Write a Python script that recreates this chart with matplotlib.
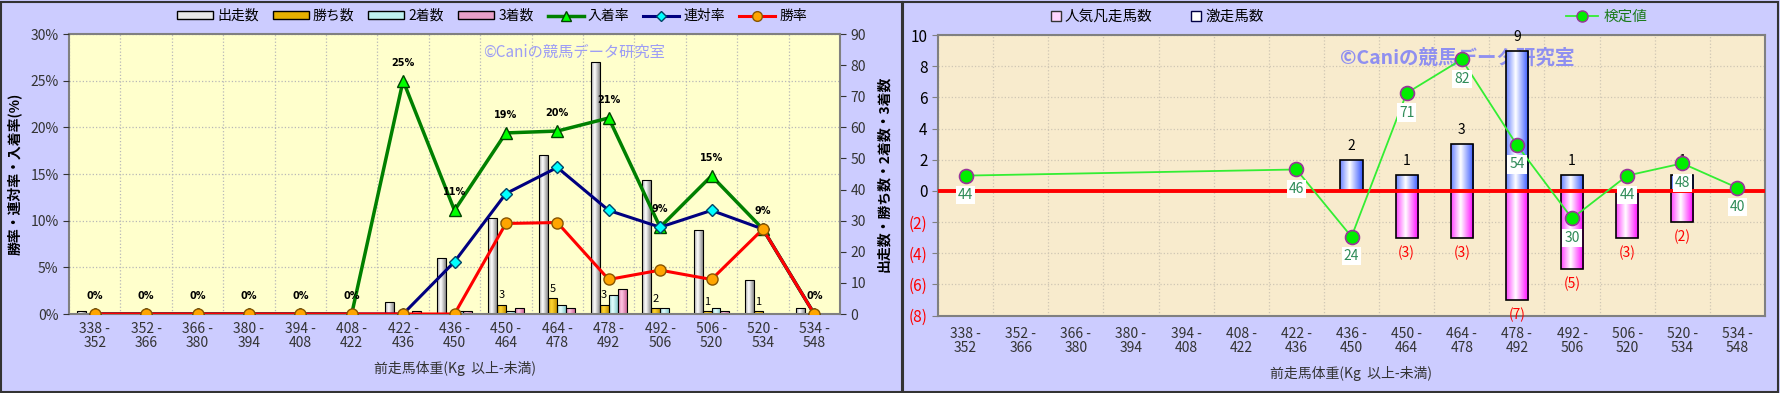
import numpy as np
import matplotlib
matplotlib.use('Agg')
import matplotlib.pyplot as plt
import matplotlib.colors as mcolors
from matplotlib.patches import Rectangle, Patch
from matplotlib.lines import Line2D
from matplotlib.ticker import MultipleLocator

plt.rcParams['font.family'] = ['Noto Sans CJK JP', 'DejaVu Sans']

# 体重区分
bins = ['338 -\n352', '352 -\n366', '366 -\n380', '380 -\n394', '394 -\n408',
        '408 -\n422', '422 -\n436', '436 -\n450', '450 -\n464', '464 -\n478',
        '478 -\n492', '492 -\n506', '506 -\n520', '520 -\n534', '534 -\n548']

# 左: 件数
starts = [1, 0, 0, 0, 0, 0, 4, 18, 31, 51, 81, 43, 27, 11, 2]
wins = [0, 0, 0, 0, 0, 0, 0, 0, 3, 5, 3, 2, 1, 1, 0]
second = [0, 0, 0, 0, 0, 0, 0, 1, 1, 3, 6, 2, 2, 0, 0]
third = [0, 0, 0, 0, 0, 0, 1, 1, 2, 2, 8, 0, 1, 0, 0]

# 左: 率(%)
place_rate = [0, 0, 0, 0, 0, 0, 25.0, 11.1, 19.4, 19.6, 21.0, 9.3, 14.8, 9.1, 0]
rentai_rate = [0, 0, 0, 0, 0, 0, 0, 5.6, 12.9, 15.7, 11.1, 9.3, 11.1, 9.1, 0]
win_rate = [0, 0, 0, 0, 0, 0, 0, 0, 9.7, 9.8, 3.7, 4.7, 3.7, 9.1, 0]

# 右: 激走 / 人気凡走 / 検定値
gekiso = [0, 0, 0, 0, 0, 0, 0, 2, 1, 3, 9, 1, 0, 1, 0]
bonso = [0, 0, 0, 0, 0, 0, 0, 0, 3, 3, 7, 5, 3, 2, 0]
kentei_idx = [0, 6, 7, 8, 9, 10, 11, 12, 13, 14]
kentei = [44, 46, 24, 71, 82, 54, 30, 44, 48, 40]

W, H = 1780, 393
BG = '#ccccff'
TXT = '#333333'


def shade(ax, bars, edge, mid):
    # 棒の横方向グラデーション
    e = np.array(mcolors.to_rgb(edge))
    m = np.array(mcolors.to_rgb(mid))
    t = np.linspace(0, 1, 64)
    g = np.clip(1 - np.abs(t - 0.42) / 0.58, 0, 1)
    img = e[None, :] * (1 - g[:, None]) + m[None, :] * g[:, None]
    for b in bars:
        h = b.get_height()
        if h == 0:
            continue
        x0, y0 = b.get_x(), b.get_y()
        im = ax.imshow(img[None], extent=[x0, x0 + b.get_width(), min(y0, y0 + h), max(y0, y0 + h)],
                       aspect='auto', interpolation='bilinear', zorder=b.get_zorder() - 0.1)
        im.set_clip_path(b)
        b.set_facecolor('none')


fig = plt.figure(figsize=(W / 100, H / 100), dpi=100, facecolor=BG)
fig.add_artist(Rectangle((0.5 / W, 1.5 / H), 902 / W, 1 - 3 / H, transform=fig.transFigure,
                         fill=False, edgecolor='#333333', lw=1.5))
fig.add_artist(Rectangle((903 / W, 1.5 / H), 875 / W, 1 - 3 / H, transform=fig.transFigure,
                         fill=False, edgecolor='#333333', lw=1.5))

x = np.arange(len(bins))

# ---------------- 左パネル ----------------
ax = fig.add_axes([69 / W, 1 - 314 / H, 771 / W, 280 / H])
ax.set_facecolor('#ffffcc')
ax2 = ax.twinx()
w = 0.175
b1 = ax.bar(x - 1.5 * w, starts, w, edgecolor='black', lw=0.8, zorder=2)
b2 = ax.bar(x - 0.5 * w, wins, w, edgecolor='black', lw=0.8, zorder=2)
b3 = ax.bar(x + 0.5 * w, second, w, edgecolor='black', lw=0.8, zorder=2)
b4 = ax.bar(x + 1.5 * w, third, w, edgecolor='black', lw=0.8, zorder=2)
shade(ax, b1, '#8a8a8a', '#ffffff')
shade(ax, b2, '#c89400', '#ffd633')
shade(ax, b3, '#86cccc', '#e4ffff')
shade(ax, b4, '#cc6699', '#ffc6e2')
for xi, v in zip(x, wins):
    if v:
        ax.annotate(str(v), (xi - 0.5 * w, v), xytext=(0, 3), textcoords='offset points',
                    ha='center', va='bottom', fontsize=8, color='black')

ax.set_xlim(-0.5, len(bins) - 0.5)
ax.set_ylim(0, 90)
ax.yaxis.tick_right()
ax.yaxis.set_label_position('right')
ax.set_yticks(range(0, 91, 10))
ax.yaxis.set_minor_locator(MultipleLocator(15))
ax.yaxis.remove_overlapping_locs = False
ax.set_xticks(x)
ax.set_xticklabels(bins, fontsize=10, color=TXT, linespacing=1.0)
ax.set_xticks(np.arange(len(bins) + 1) - 0.5, minor=True)
ax.grid(which='minor', color='#b8b8b8', ls=':', lw=0.9)
ax.set_axisbelow(True)
ax.tick_params(which='minor', length=0)
ax.tick_params(axis='x', length=0, pad=6)
ax.tick_params(axis='y', which='major', labelsize=10, colors=TXT, length=4)
ax.set_ylabel('出走数・勝ち数・2着数・3着数', fontsize=10, fontweight='bold', labelpad=8)
ax.set_xlabel('前走馬体重(Kg  以上-未満)', fontsize=10, color=TXT, labelpad=8)
for s in ax.spines.values():
    s.set_color('#808080')
    s.set_linewidth(1.5)
ax.text(0.537, 0.935, '©Caniの競馬データ研究室', transform=ax.transAxes,
        fontsize=11, color='#9d9df5', va='center', ha='left', zorder=1)

ax2.yaxis.tick_left()
ax2.yaxis.set_label_position('left')
ax2.set_ylim(0, 30)
ax2.set_yticks(range(0, 31, 5))
ax2.set_yticklabels([f'{v}%' for v in range(0, 31, 5)])
ax2.tick_params(axis='y', labelsize=10, colors=TXT, length=4)
for s in ax2.spines.values():
    s.set_visible(False)
ax2.plot(x, place_rate, color='#008000', lw=2.5, marker='^', ms=9, mfc='#00ff00', mec='#004400', mew=1, zorder=3)
ax2.plot(x, rentai_rate, color='#000080', lw=2.2, marker='D', ms=6, mfc='#00ffff', mec='#004466', mew=1, zorder=4)
ax2.plot(x, win_rate, color='#ff0000', lw=2.2, marker='o', ms=8, mfc='#ffa500', mec='#885500', mew=1, zorder=5)
for xi, v in zip(x, place_rate):
    ax2.annotate(f'{v:.0f}%', (xi, v), xytext=(0, 13), textcoords='offset points',
                 ha='center', va='center', fontsize=7, fontweight='bold', family='DejaVu Sans')
ax2.set_ylabel('勝率・連対率・入着率(%)', fontsize=10, fontweight='bold', labelpad=6)

hl = [Patch(facecolor='#e8e8e8', edgecolor='black'),
      Patch(facecolor='#e6b000', edgecolor='black'),
      Patch(facecolor='#bff0f0', edgecolor='black'),
      Patch(facecolor='#e8a0c8', edgecolor='black'),
      Line2D([], [], color='#008000', lw=2.5, marker='^', ms=7, mfc='#00ff00', mec='#004400'),
      Line2D([], [], color='#000080', lw=2.2, marker='D', ms=5, mfc='#00ffff', mec='#004466'),
      Line2D([], [], color='#ff0000', lw=2.2, marker='o', ms=7, mfc='#ffa500', mec='#885500')]
fig.legend(hl, ['出走数', '勝ち数', '2着数', '3着数', '入着率', '連対率', '勝率'],
           loc='center', bbox_to_anchor=(492 / W, 1 - 16 / H), ncol=7, frameon=False,
           fontsize=10, handlelength=2.6, handleheight=0.5, columnspacing=1.0, handletextpad=0.3)

# ---------------- 右パネル ----------------
axr = fig.add_axes([938 / W, 1 - 315.6 / H, 827 / W, 280.6 / H])
axr.set_facecolor('#f8ebcd')
axk = axr.twinx()
bw = 0.4
bb = axr.bar(x, gekiso, bw, edgecolor='black', lw=1.2, zorder=2)
bp = axr.bar(x, -np.array(bonso), bw, edgecolor='black', lw=1.2, zorder=2)
shade(axr, bb, '#3355ff', '#ffffff')
shade(axr, bp, '#ff00ff', '#ffffff')
for xi, v in zip(x, gekiso):
    if v:
        axr.annotate(str(v), (xi, v), xytext=(0, 10), textcoords='offset points',
                     ha='center', va='center', fontsize=10, color='black')
for xi, v in zip(x, bonso):
    if v:
        axr.annotate(f'({v})', (xi, -v), xytext=(0, -11), textcoords='offset points',
                     ha='center', va='center', fontsize=10, color='red')
axr.axhline(0, color='red', lw=2.8, zorder=5)

axr.set_xlim(-0.5, len(bins) - 0.5)
axr.set_ylim(-8, 10)
yt = list(range(-8, 11, 2))
axr.yaxis.tick_left()
axr.set_yticks(yt)
axr.set_yticklabels([str(v) if v >= 0 else f'({-v})' for v in yt])
for lab, v in zip(axr.get_yticklabels(), yt):
    lab.set_color('black' if v >= 0 else 'red')
axr.set_xticks(x)
axr.set_xticklabels(bins, fontsize=10, color=TXT, linespacing=1.0)
axr.set_xticks(np.arange(len(bins) + 1) - 0.5, minor=True)
axr.yaxis.set_minor_locator(MultipleLocator(2))
axr.yaxis.remove_overlapping_locs = False
axr.grid(which='minor', color='#cfc6b4', ls=':', lw=0.9)
axr.set_axisbelow(True)
axr.tick_params(which='minor', length=0)
axr.tick_params(axis='x', length=0, pad=8)
axr.tick_params(axis='y', which='major', labelsize=11, length=4, color='#808080')
axr.set_xlabel('前走馬体重(Kg  以上-未満)', fontsize=10, color=TXT, labelpad=8)
for s in axr.spines.values():
    s.set_color('#808080')
    s.set_linewidth(1.5)
axr.text(0.486, 0.918, '©Caniの競馬データ研究室', transform=axr.transAxes,
         fontsize=14, fontweight='bold', color='#8f8ff0', va='center', ha='left', zorder=1)

axk.set_ylim(-1.8, 90)
axk.axis('off')
axk.plot(kentei_idx, kentei, color='#33ee33', lw=1.3, marker='o', ms=10,
         mfc='#00ee00', mec='#993399', mew=1.2, zorder=3)
for xi, v in zip(kentei_idx, kentei):
    axk.annotate(str(v), (xi, v), xytext=(0, -14), textcoords='offset points',
                 ha='center', va='center', fontsize=10, color='#2e8b57', zorder=4,
                 bbox=dict(facecolor='white', edgecolor='none', pad=1.5))

hr = [Line2D([], [], ls='none', marker='s', ms=7, mfc='#ffd6ff', mec='#333333'),
      Line2D([], [], ls='none', marker='s', ms=7, mfc='#ffffff', mec='#000044')]
fig.legend(hr, ['人気凡走馬数', '激走馬数'], loc='center', bbox_to_anchor=(1157 / W, 1 - 17 / H),
           ncol=2, frameon=False, fontsize=10.5, handlelength=0.8, handletextpad=0.2,
           columnspacing=2.6)
lg = fig.legend([Line2D([], [], color='#33ee33', lw=1.3, marker='o', ms=8, mfc='#00ee00', mec='#993399')],
                ['検定値'], loc='center', bbox_to_anchor=(1607 / W, 1 - 17 / H), frameon=False,
                fontsize=10.5, handlelength=2.2, handletextpad=0.4)
for t in lg.get_texts():
    t.set_color('#1a7a1a')

fig.savefig('out.png', dpi=100, facecolor=BG)
